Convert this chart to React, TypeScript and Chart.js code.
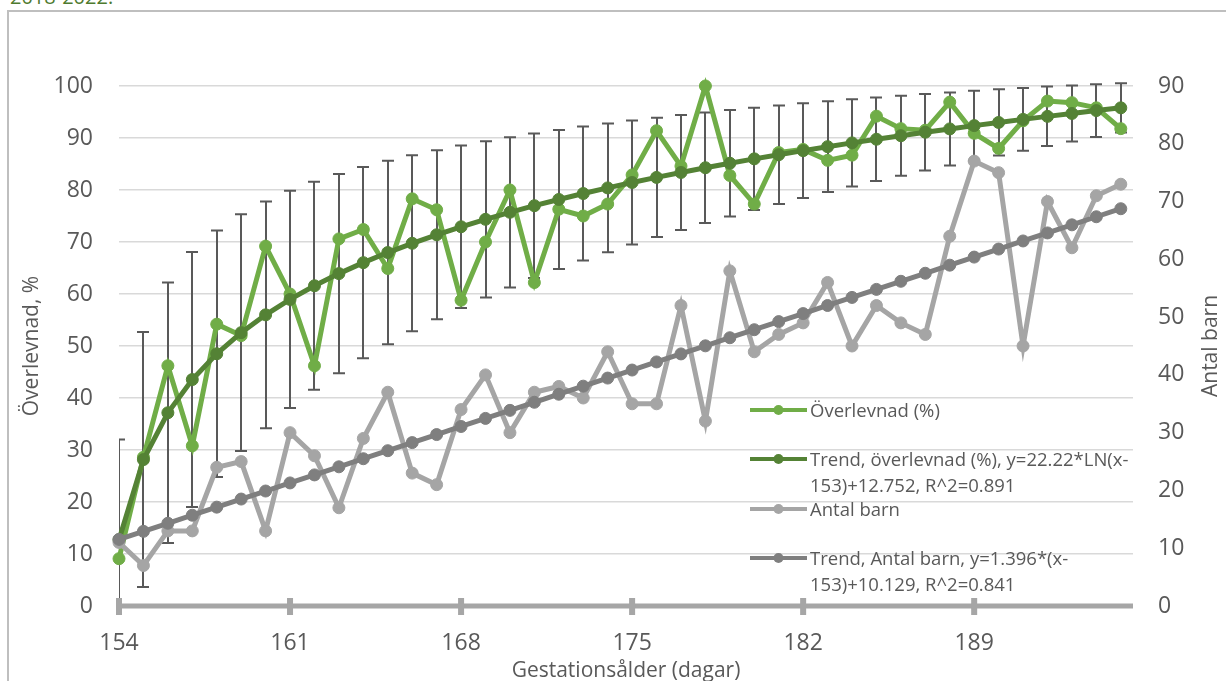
import { useEffect, useRef } from 'react';
import { Chart, registerables } from 'chart.js';

Chart.register(...registerables);

// ---- data ----
const DAYS = [154, 155, 156, 157, 158, 159, 160, 161, 162, 163, 164, 165, 166, 167, 168, 169, 170, 171, 172, 173, 174,
  175, 176, 177, 178, 179, 180, 181, 182, 183, 184, 185, 186, 187, 188, 189, 190, 191, 192, 193, 194, 195];
const X_TICKS = [154, 161, 168, 175, 182, 189];

const SURVIVAL = [9.1, 28.6, 46.2, 30.8, 54.2, 52, 69.2, 60, 46.2, 70.6, 72.4, 64.9, 78.3, 76.2, 58.8, 70, 80, 62.2,
  76.3, 75, 77.3, 82.9, 91.4, 84.6, 100, 82.8, 77.3, 87.2, 87.8, 85.7, 86.7, 94.2, 91.8, 91.5, 96.9, 90.9, 88, 93.3,
  97.1, 96.8, 95.8, 91.8];
const SURVIVAL_TREND = [12.75, 28.15, 37.16, 43.55, 48.51, 52.57, 55.99, 58.96, 61.58, 63.92, 66.03, 67.97, 69.75,
  71.39, 72.93, 74.36, 75.71, 76.98, 78.18, 79.32, 80.4, 81.44, 82.42, 83.37, 84.28, 85.15, 85.99, 86.79, 87.57, 88.33,
  89.06, 89.76, 90.44, 91.11, 91.75, 92.38, 92.99, 93.58, 94.16, 94.72, 95.27, 95.8];
const SURVIVAL_ERROR = [19.26, 24.52, 25.03, 24.52, 23.68, 22.75, 21.81, 20.89, 20.01, 19.18, 18.39, 17.64, 16.93,
  16.26, 15.62, 15.02, 14.44, 13.9, 13.37, 12.87, 12.39, 11.92, 11.48, 11.05, 10.63, 10.23, 9.84, 9.46, 9.09, 8.73,
  8.37, 8.03, 7.69, 7.35, 7.02, 6.69, 6.37, 6.04, 5.72, 5.4, 5.07, 4.74];
const CHILDREN = [11, 7, 13, 13, 24, 25, 13, 30, 26, 17, 29, 37, 23, 21, 34, 40, 30, 37, 38, 36, 44, 35, 35, 52, 32,
  58, 44, 47, 49, 56, 45, 52, 49, 47, 64, 77, 75, 45, 70, 62, 71, 73];
const CHILDREN_TREND = [11.53, 12.92, 14.32, 15.71, 17.11, 18.51, 19.9, 21.3, 22.69, 24.09, 25.49, 26.88, 28.28,
  29.67, 31.07, 32.47, 33.86, 35.26, 36.65, 38.05, 39.45, 40.84, 42.24, 43.63, 45.03, 46.43, 47.82, 49.22, 50.61,
  52.01, 53.41, 54.8, 56.2, 57.59, 58.99, 60.39, 61.78, 63.18, 64.57, 65.97, 67.37, 68.76];

const SERIES_NAMES = ['Överlevnad (%)', 'Trend, överlevnad (%)', 'Antal barn', 'Trend, Antal barn'];
const LEGEND_TEXT = [
  ['Överlevnad (%)'],
  ['Trend, överlevnad (%), y=22.22*LN(x-', '153)+12.752, R^2=0.891'],
  ['Antal barn'],
  ['Trend, Antal barn, y=1.396*(x-', '153)+10.129, R^2=0.841'],
];
const HEADING = '2018-2022.';
const X_TITLE = 'Gestationsålder (dagar)';
const Y_TITLE = 'Överlevnad, %';
const Y2_TITLE = 'Antal barn';

const FONT = '"Open Sans", sans-serif';
const TEXT_COLOR = '#595959';
const SERIES_COLORS = ['#70ad47', '#548235', '#a5a5a5', '#7f7f7f'];

const overlay = {
  id: 'overlay',
  beforeDatasetsDraw(chart: any) {
    const { ctx, chartArea: a, scales } = chart;
    const xs = scales.x;
    const ys = scales.y;
    // error bars on the survival trend
    ctx.save();
    ctx.beginPath();
    ctx.rect(a.left, a.top - 20, a.right - a.left, a.bottom - a.top + 20);
    ctx.clip();
    ctx.strokeStyle = '#595959';
    ctx.lineWidth = 2;
    DAYS.forEach((d, i) => {
      const px = Math.round(xs.getPixelForValue(d));
      const hi = ys.getPixelForValue(SURVIVAL_TREND[i] + SURVIVAL_ERROR[i]);
      const lo = ys.getPixelForValue(SURVIVAL_TREND[i] - SURVIVAL_ERROR[i]);
      ctx.beginPath();
      ctx.moveTo(px, hi);
      ctx.lineTo(px, lo);
      ctx.moveTo(px - 6, hi);
      ctx.lineTo(px + 6, hi);
      ctx.moveTo(px - 6, lo);
      ctx.lineTo(px + 6, lo);
      ctx.stroke();
    });
    ctx.restore();
    // x axis line with tick marks
    ctx.save();
    ctx.fillStyle = '#a6a6a6';
    const y0 = ys.getPixelForValue(0);
    ctx.fillRect(a.left - 2, y0 - 2.5, a.right - a.left + 2, 5);
    X_TICKS.forEach((v) => {
      const px = xs.getPixelForValue(v);
      ctx.fillRect(px - 3, y0 - 8, 6, 17);
    });
    ctx.restore();
  },
  afterDatasetsDraw(chart: any) {
    const { ctx, chartArea: a } = chart;
    ctx.save();
    // legend
    const rowBase = [417, 466, 516, 565];
    const sx0 = 750;
    const sx1 = 807;
    ctx.font = `18.5px ${FONT}`;
    ctx.textAlign = 'left';
    ctx.textBaseline = 'alphabetic';
    LEGEND_TEXT.forEach((lines, i) => {
      const base = rowBase[i];
      const my = base - 7;
      ctx.strokeStyle = SERIES_COLORS[i];
      ctx.lineWidth = 4;
      ctx.beginPath();
      ctx.moveTo(sx0, my);
      ctx.lineTo(sx1, my);
      ctx.stroke();
      ctx.fillStyle = SERIES_COLORS[i];
      ctx.beginPath();
      ctx.arc((sx0 + sx1) / 2, my, 5, 0, Math.PI * 2);
      ctx.fill();
      ctx.fillStyle = TEXT_COLOR;
      lines.forEach((t, j) => ctx.fillText(t, 810, base + j * 25.5));
    });
    // axis titles
    ctx.fillStyle = TEXT_COLOR;
    ctx.font = `21px ${FONT}`;
    ctx.textAlign = 'center';
    ctx.fillText(X_TITLE, (a.left + a.right) / 2, 677);
    const midY = (a.top + a.bottom) / 2;
    ctx.save();
    ctx.translate(38, midY);
    ctx.rotate(-Math.PI / 2);
    ctx.fillText(Y_TITLE, 0, 0);
    ctx.restore();
    ctx.save();
    ctx.translate(1217, midY);
    ctx.rotate(-Math.PI / 2);
    ctx.fillText(Y2_TITLE, 0, 0);
    ctx.restore();
    ctx.restore();
  },
};

function series(values: number[], idx: number, axis: string, order: number) {
  const c = SERIES_COLORS[idx];
  return {
    label: SERIES_NAMES[idx],
    data: DAYS.map((d, i) => ({ x: d, y: values[i] })),
    yAxisID: axis,
    borderColor: c,
    backgroundColor: c,
    pointBackgroundColor: c,
    pointBorderColor: c,
    pointRadius: 6,
    pointBorderWidth: 1,
    borderWidth: 5,
    tension: 0,
    clip: false as any,
    order,
  };
}

export default function App() {
  const ref = useRef<HTMLCanvasElement>(null);
  useEffect(() => {
    if (!ref.current) return;
    const tickFont = { family: FONT, size: 23 };
    const chart = new Chart(ref.current, {
      type: 'line',
      data: {
        datasets: [
          series(SURVIVAL, 0, 'y', 3),
          series(SURVIVAL_TREND, 1, 'y', 2),
          series(CHILDREN, 2, 'y2', 1),
          series(CHILDREN_TREND, 3, 'y2', 0),
        ] as any,
      },
      options: {
        animation: false,
        responsive: false,
        layout: { padding: { top: 86, left: 0, right: 0, bottom: 0 } },
        plugins: { legend: { display: false }, tooltip: { enabled: false } },
        scales: {
          x: {
            type: 'linear',
            min: 154,
            max: 195.5,
            afterBuildTicks: (s: any) => {
              s.ticks = X_TICKS.map((v) => ({ value: v }));
            },
            afterFit: (s: any) => {
              s.height = 75;
            },
            grid: { display: false },
            border: { display: false },
            ticks: { autoSkip: false, maxRotation: 0, padding: 16, color: TEXT_COLOR, font: tickFont },
          },
          y: {
            position: 'left',
            min: 0,
            max: 100,
            afterFit: (s: any) => {
              s.width = 119;
            },
            grid: { color: '#d9d9d9', lineWidth: 1.5, drawTicks: false },
            border: { display: false },
            ticks: { stepSize: 10, padding: 26, color: TEXT_COLOR, font: tickFont },
          },
          y2: {
            position: 'right',
            min: 0,
            max: 90,
            afterFit: (s: any) => {
              s.width = 93;
            },
            grid: { display: false, drawTicks: false },
            border: { display: false },
            ticks: { stepSize: 10, padding: 25, color: TEXT_COLOR, font: tickFont },
          },
        },
      } as any,
      plugins: [overlay],
    });
    return () => chart.destroy();
  }, []);

  return (
    <div style={{ position: 'fixed', left: 0, top: 0, width: 1226, height: 681, overflow: 'hidden', background: '#fff' }}>
      <div
        style={{
          position: 'absolute',
          left: 10,
          top: -13,
          fontFamily: FONT,
          fontSize: 20,
          lineHeight: '20px',
          color: '#4e7a2e',
          whiteSpace: 'nowrap',
        }}
      >
        {HEADING}
      </div>
      <div
        style={{
          position: 'absolute',
          left: 7,
          top: 10,
          width: 1300,
          height: 800,
          border: '2px solid #bfbfbf',
        }}
      />
      <canvas ref={ref} width={1226} height={681} style={{ position: 'absolute', left: 0, top: 0 }} />
    </div>
  );
}
